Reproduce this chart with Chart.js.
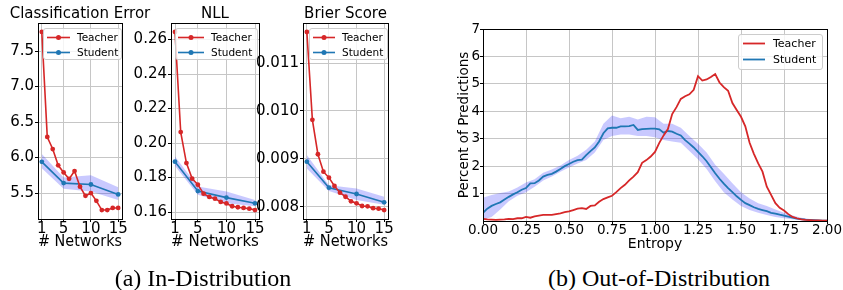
<!DOCTYPE html>
<html><head><meta charset="utf-8">
<script src="https://cdn.jsdelivr.net/npm/chart.js@4.4.1/dist/chart.umd.min.js"></script>
<style>
html,body{margin:0;padding:0;background:#fff;width:843px;height:290px;overflow:hidden;position:relative}
canvas{position:absolute;top:0}
.cap{position:absolute;font-family:"Liberation Serif","Times New Roman",serif;font-size:24px;line-height:24px;white-space:nowrap;transform:translateX(-50%);color:#000}
</style></head><body>
<canvas id="c1" width="160" height="256" style="left:0px"></canvas>
<canvas id="c2" width="174" height="256" style="left:128px"></canvas>
<canvas id="c3" width="181" height="256" style="left:255px"></canvas>
<canvas id="c4" width="403" height="256" style="left:440px"></canvas>
<div class="cap" style="left:203px;top:265.5px">(a) In-Distribution</div>
<div class="cap" style="left:659px;top:265.5px">(b) Out-of-Distribution</div>
<script>
// ---------- data ----------
const seriesNames = ['Teacher', 'Student'];
const networks = [1,2,3,4,5,6,7,8,9,10,11,12,13,14,15];
const studentNetworks = [1,5,10,15];
const networkTicks = [1,5,10,15];

const errTeacher = [7.77,6.29,6.12,5.89,5.79,5.70,5.81,5.59,5.46,5.50,5.39,5.26,5.26,5.29,5.29];
const errStudent = [5.94,5.64,5.62,5.48];
const errStudentLow = [5.85,5.56,5.52,5.40];
const errStudentHigh = [6.05,5.72,5.75,5.58];
const errTicks = [5.5,6.0,6.5,7.0,7.5];

const nllTeacher = [0.2644,0.2064,0.1884,0.1794,0.1759,0.1707,0.1688,0.1678,0.1659,0.1650,0.1634,0.1628,0.1624,0.1620,0.1612];
const nllStudent = [0.1892,0.1722,0.1684,0.1651];
const nllStudentLow = [0.1867,0.1700,0.1652,0.1634];
const nllStudentHigh = [0.1922,0.1749,0.1719,0.1670];
const nllTicks = [0.16,0.18,0.20,0.22,0.24,0.26];

const brierTeacher = [0.011648,0.009814,0.009096,0.008732,0.008607,0.008433,0.008293,0.008209,0.008113,0.008071,0.008015,0.008008,0.007970,0.007960,0.007930];
const brierStudent = [0.008941,0.008397,0.008266,0.008092];
const brierStudentLow = [0.00880,0.00833,0.00814,0.00804];
const brierStudentHigh = [0.00908,0.00845,0.00838,0.00821];
const brierTicks = [0.008,0.009,0.010,0.011];

const entropy = [0,0.025,0.05,0.075,0.1,0.125,0.15,0.175,0.2,0.225,0.25,0.275,0.3,0.325,0.35,0.375,0.4,0.425,0.45,0.475,0.5,0.525,0.55,0.575,0.6,0.625,0.65,0.675,0.7,0.725,0.75,0.775,0.8,0.825,0.85,0.875,0.9,0.925,0.95,0.975,1,1.025,1.05,1.075,1.1,1.125,1.15,1.175,1.2,1.225,1.25,1.275,1.3,1.325,1.35,1.375,1.4,1.425,1.45,1.475,1.5,1.525,1.55,1.575,1.6,1.625,1.65,1.675,1.7,1.725,1.75,1.775,1.8,1.825,1.85,1.875,1.9,1.925,1.95,1.975,2];
const oodTeacher = [0.08,0.06,0.05,0.04,0.05,0.06,0.08,0.07,0.10,0.10,
 0.15,0.12,0.17,0.20,0.22,0.22,0.22,0.25,0.28,0.32,
 0.35,0.40,0.45,0.47,0.44,0.55,0.57,0.70,0.80,0.86,
 0.92,1.05,1.20,1.32,1.48,1.62,1.78,2.12,2.22,2.35,
 2.52,2.85,3.12,3.35,3.90,4.15,4.45,4.55,4.62,4.78,
 5.28,5.12,5.16,5.25,5.36,5.05,4.88,4.75,4.30,4.05,
 3.80,3.45,2.85,2.45,2.10,1.80,1.25,0.95,0.65,0.48,
 0.38,0.25,0.15,0.10,0.06,0.04,0.03,0.02,0.02,0.01,0.01];
const oodStudent = [0.30,0.45,0.55,0.62,0.68,0.78,0.88,0.97,1.05,1.14,
 1.20,1.37,1.38,1.48,1.62,1.68,1.72,1.80,1.90,2.00,
 2.08,2.16,2.22,2.24,2.40,2.55,2.68,2.90,3.20,3.38,
 3.40,3.40,3.45,3.45,3.46,3.50,3.32,3.35,3.36,3.37,
 3.37,3.34,3.22,3.28,3.26,3.18,3.12,2.95,2.82,2.68,
 2.52,2.36,2.18,1.96,1.74,1.54,1.36,1.20,1.05,0.90,
 0.77,0.65,0.58,0.50,0.44,0.40,0.36,0.30,0.27,0.23,
 0.20,0.16,0.12,0.09,0.07,0.05,0.04,0.03,0.02,0.01,0.01];
const entropyBand = [0,0.05,0.1,0.15,0.2,0.25,0.3,0.35,0.4,0.45,0.5,0.55,0.6,0.65,0.7,0.75,0.8,0.85,0.9,0.95,1,1.05,1.1,1.15,1.2,1.25,1.3,1.35,1.4,1.45,1.5,1.55,1.6,1.65,1.7,1.75,1.8,1.85,1.9,1.95,2];
const oodStudentLow = [0.05,0.15,0.42,0.72,0.92,1.05,1.25,1.48,1.62,1.80,1.95,2.10,2.22,2.50,2.95,3.10,3.15,3.15,3.10,3.10,3.05,2.95,2.90,2.85,2.55,2.25,1.90,1.45,1.05,0.78,0.55,0.40,0.30,0.22,0.15,0.10,0.06,0.03,0.01,0.00,0.00];
const oodStudentHigh = [0.85,0.95,1.02,1.08,1.22,1.40,1.52,1.76,1.88,2.02,2.22,2.38,2.60,2.90,3.55,3.85,3.75,3.80,3.70,3.80,3.78,3.55,3.55,3.40,3.10,2.82,2.50,2.05,1.72,1.38,1.05,0.82,0.65,0.55,0.42,0.30,0.20,0.12,0.07,0.03,0.01];
const entropyTicks = [0,0.25,0.5,0.75,1,1.25,1.5,1.75,2];
const percentTicks = [1,2,3,4,5,6,7];

// ---------- style ----------
const RED = '#d62728', BLUE = '#1f77b4', BAND = 'rgba(40,40,255,0.25)';
const GRID = '#c6c6c6';
const FONT = 'DejaVu Sans';
const pts = (xs, ys) => xs.map((x, i) => ({x, y: ys[i]}));

const frame = {
  id: 'frame',
  afterDatasetsDraw(chart) {
    const a = chart.chartArea, ctx = chart.ctx;
    ctx.save(); ctx.strokeStyle = '#000'; ctx.lineWidth = 1;
    ctx.strokeRect(Math.round(a.left) + 0.5, Math.round(a.top) + 0.5, Math.round(a.right - a.left), Math.round(a.bottom - a.top));
    ctx.restore();
  }
};

function makeLegend(o) {
  return {
    id: 'boxLegend',
    afterDraw(chart) {
      const ctx = chart.ctx, a = chart.chartArea;
      const x = o.fromRight ? a.right - o.dx - o.w : a.left + o.dx;
      const y = a.top + o.dy;
      ctx.save();
      ctx.beginPath();
      ctx.roundRect(x + 0.5, y + 0.5, o.w, o.h, 2.5);
      ctx.fillStyle = 'rgba(255,255,255,0.8)'; ctx.fill();
      ctx.strokeStyle = '#cccccc'; ctx.lineWidth = 1; ctx.stroke();
      [RED, BLUE].forEach((c, i) => {
        const cy = y + o.row0 + i * o.rowGap;
        ctx.strokeStyle = c; ctx.lineWidth = o.lw;
        ctx.beginPath(); ctx.moveTo(x + o.l0, cy); ctx.lineTo(x + o.l1, cy); ctx.stroke();
        if (o.marker) {
          ctx.fillStyle = c; ctx.beginPath();
          ctx.arc(x + (o.l0 + o.l1) / 2, cy, 2.5, 0, Math.PI * 2); ctx.fill();
        }
        ctx.fillStyle = '#000'; ctx.font = o.font + 'px "' + FONT + '"';
        ctx.textBaseline = 'middle'; ctx.textAlign = 'left';
        ctx.fillText(seriesNames[i], x + o.tx, cy + 0.5);
      });
      ctx.restore();
    }
  };
}

function smallChart(id, title, teacher, student, low, high, yMin, yMax, yTicks, dec, yWidth, legend) {
  new Chart(document.getElementById(id), {
    type: 'line',
    data: {
      datasets: [
        {label: seriesNames[0], data: pts(networks, teacher), borderColor: RED, backgroundColor: RED,
         borderWidth: 1.6, pointRadius: 2.4, pointBorderWidth: 0, pointBackgroundColor: RED, fill: false, tension: 0},
        {label: seriesNames[1], data: pts(studentNetworks, student), borderColor: BLUE, backgroundColor: BLUE,
         borderWidth: 1.6, pointRadius: 2.4, pointBorderWidth: 0, pointBackgroundColor: BLUE, fill: false, tension: 0},
        {label: 'hi', data: pts(studentNetworks, high), borderWidth: 0, pointRadius: 0, fill: '+1', backgroundColor: BAND, borderColor: 'rgba(0,0,0,0)'},
        {label: 'lo', data: pts(studentNetworks, low), borderWidth: 0, pointRadius: 0, fill: false, borderColor: 'rgba(0,0,0,0)'}
      ]
    },
    options: {
      responsive: false, animation: false, devicePixelRatio: 1,
      layout: {padding: {top: 0, left: 0, right: 0, bottom: 6}},
      plugins: {
        legend: {display: false}, tooltip: {enabled: false},
        title: {display: true, text: title, color: '#000', fullSize: true,
                font: {family: FONT, size: 15, weight: 'normal', lineHeight: 1.2}, padding: {top: 5, bottom: 0}}
      },
      scales: {
        x: {type: 'linear', min: 0.3, max: 15.7,
            afterBuildTicks: s => { s.ticks = networkTicks.map(v => ({value: v})); },
            afterFit: s => { s.height = 31; },
            ticks: {color: '#000', font: {family: FONT, size: 15, lineHeight: 1}, padding: 0, maxRotation: 0, autoSkip: false},
            grid: {color: GRID, lineWidth: 1, tickColor: '#000', tickLength: 3},
            border: {color: '#000', width: 1},
            title: {display: true, text: '# Networks', color: '#000', font: {family: FONT, size: 15, lineHeight: 1}, padding: 0}},
        y: {type: 'linear', position: 'left', min: yMin, max: yMax,
            afterBuildTicks: s => { s.ticks = yTicks.map(v => ({value: v})); },
            afterFit: s => { s.width = yWidth; },
            ticks: {color: '#000', font: {family: FONT, size: 15, lineHeight: 1}, padding: 1, callback: v => v.toFixed(dec)},
            grid: {color: GRID, lineWidth: 1, tickColor: '#000', tickLength: 3},
            border: {color: '#000', width: 1}},
        yRight: {axis: 'y', type: 'linear', position: 'right', display: true,
            ticks: {display: false}, grid: {display: false, drawTicks: false}, border: {display: false},
            afterFit: s => { s.width = yWidth; }}
      }
    },
    plugins: [frame, makeLegend(legend)]
  });
}

smallChart('c1', 'Classification Error', errTeacher, errStudent, errStudentLow, errStudentHigh,
  5.134, 7.896, errTicks, 1, 38,
  {fromRight: false, dx: 5, dy: 5, w: 78, h: 31, row0: 9.5, rowGap: 15, l0: 4, l1: 27, tx: 34, lw: 1.6, marker: true, font: 10.5});
smallChart('c2', 'NLL', nllTeacher, nllStudent, nllStudentLow, nllStudentHigh,
  0.1560, 0.2696, nllTicks, 2, 43,
  {fromRight: false, dx: 4, dy: 5, w: 82, h: 31, row0: 9.5, rowGap: 15, l0: 3, l1: 29, tx: 36, lw: 1.6, marker: true, font: 10.5});
smallChart('c3', 'Brier Score', brierTeacher, brierStudent, brierStudentLow, brierStudentHigh,
  0.007744, 0.011836, brierTicks, 3, 48,
  {fromRight: false, dx: 6, dy: 5, w: 78, h: 31, row0: 9.5, rowGap: 15, l0: 4, l1: 26, tx: 33, lw: 1.6, marker: true, font: 10.5});

new Chart(document.getElementById('c4'), {
  type: 'line',
  data: {
    datasets: [
      {label: seriesNames[0], data: pts(entropy, oodTeacher), borderColor: RED, borderWidth: 1.8, pointRadius: 0, fill: false, tension: 0},
      {label: seriesNames[1], data: pts(entropy, oodStudent), borderColor: BLUE, borderWidth: 1.8, pointRadius: 0, fill: false, tension: 0},
      {label: 'hi', data: pts(entropyBand, oodStudentHigh), borderWidth: 0, pointRadius: 0, fill: '+1', backgroundColor: BAND, borderColor: 'rgba(0,0,0,0)'},
      {label: 'lo', data: pts(entropyBand, oodStudentLow), borderWidth: 0, pointRadius: 0, fill: false, borderColor: 'rgba(0,0,0,0)'}
    ]
  },
  options: {
    responsive: false, animation: false, devicePixelRatio: 1,
    layout: {padding: {top: 29, left: 16, right: 16, bottom: 5}},
    plugins: {legend: {display: false}, tooltip: {enabled: false}, title: {display: false}},
    scales: {
      x: {type: 'linear', min: 0, max: 2,
          afterBuildTicks: s => { s.ticks = entropyTicks.map(v => ({value: v})); },
          afterFit: s => { s.height = 30; },
          ticks: {color: '#000', font: {family: FONT, size: 13.5, lineHeight: 1}, padding: 0, maxRotation: 0, autoSkip: false, callback: v => v.toFixed(2)},
          grid: {color: GRID, lineWidth: 1, tickColor: '#000', tickLength: 3},
          border: {color: '#000', width: 1},
          title: {display: true, text: 'Entropy', color: '#000', font: {family: FONT, size: 14, lineHeight: 1}, padding: 0}},
      y: {type: 'linear', min: 0, max: 7,
          afterBuildTicks: s => { s.ticks = percentTicks.map(v => ({value: v})); },
          afterFit: s => { s.width = 27; },
          ticks: {color: '#000', font: {family: FONT, size: 13.5, lineHeight: 1}, padding: 0},
          grid: {color: GRID, lineWidth: 1, tickColor: '#000', tickLength: 3},
          border: {color: '#000', width: 1},
          title: {display: true, text: 'Percent of Predictions', color: '#000', font: {family: FONT, size: 13.5, lineHeight: 1.2}, padding: 0}}
    }
  },
  plugins: [frame, makeLegend({fromRight: true, dx: 5, dy: 5, w: 84, h: 35, row0: 9.5, rowGap: 16, l0: 5, l1: 27, tx: 35, lw: 1.8, marker: false, font: 11})]
});
</script>
</body></html>
